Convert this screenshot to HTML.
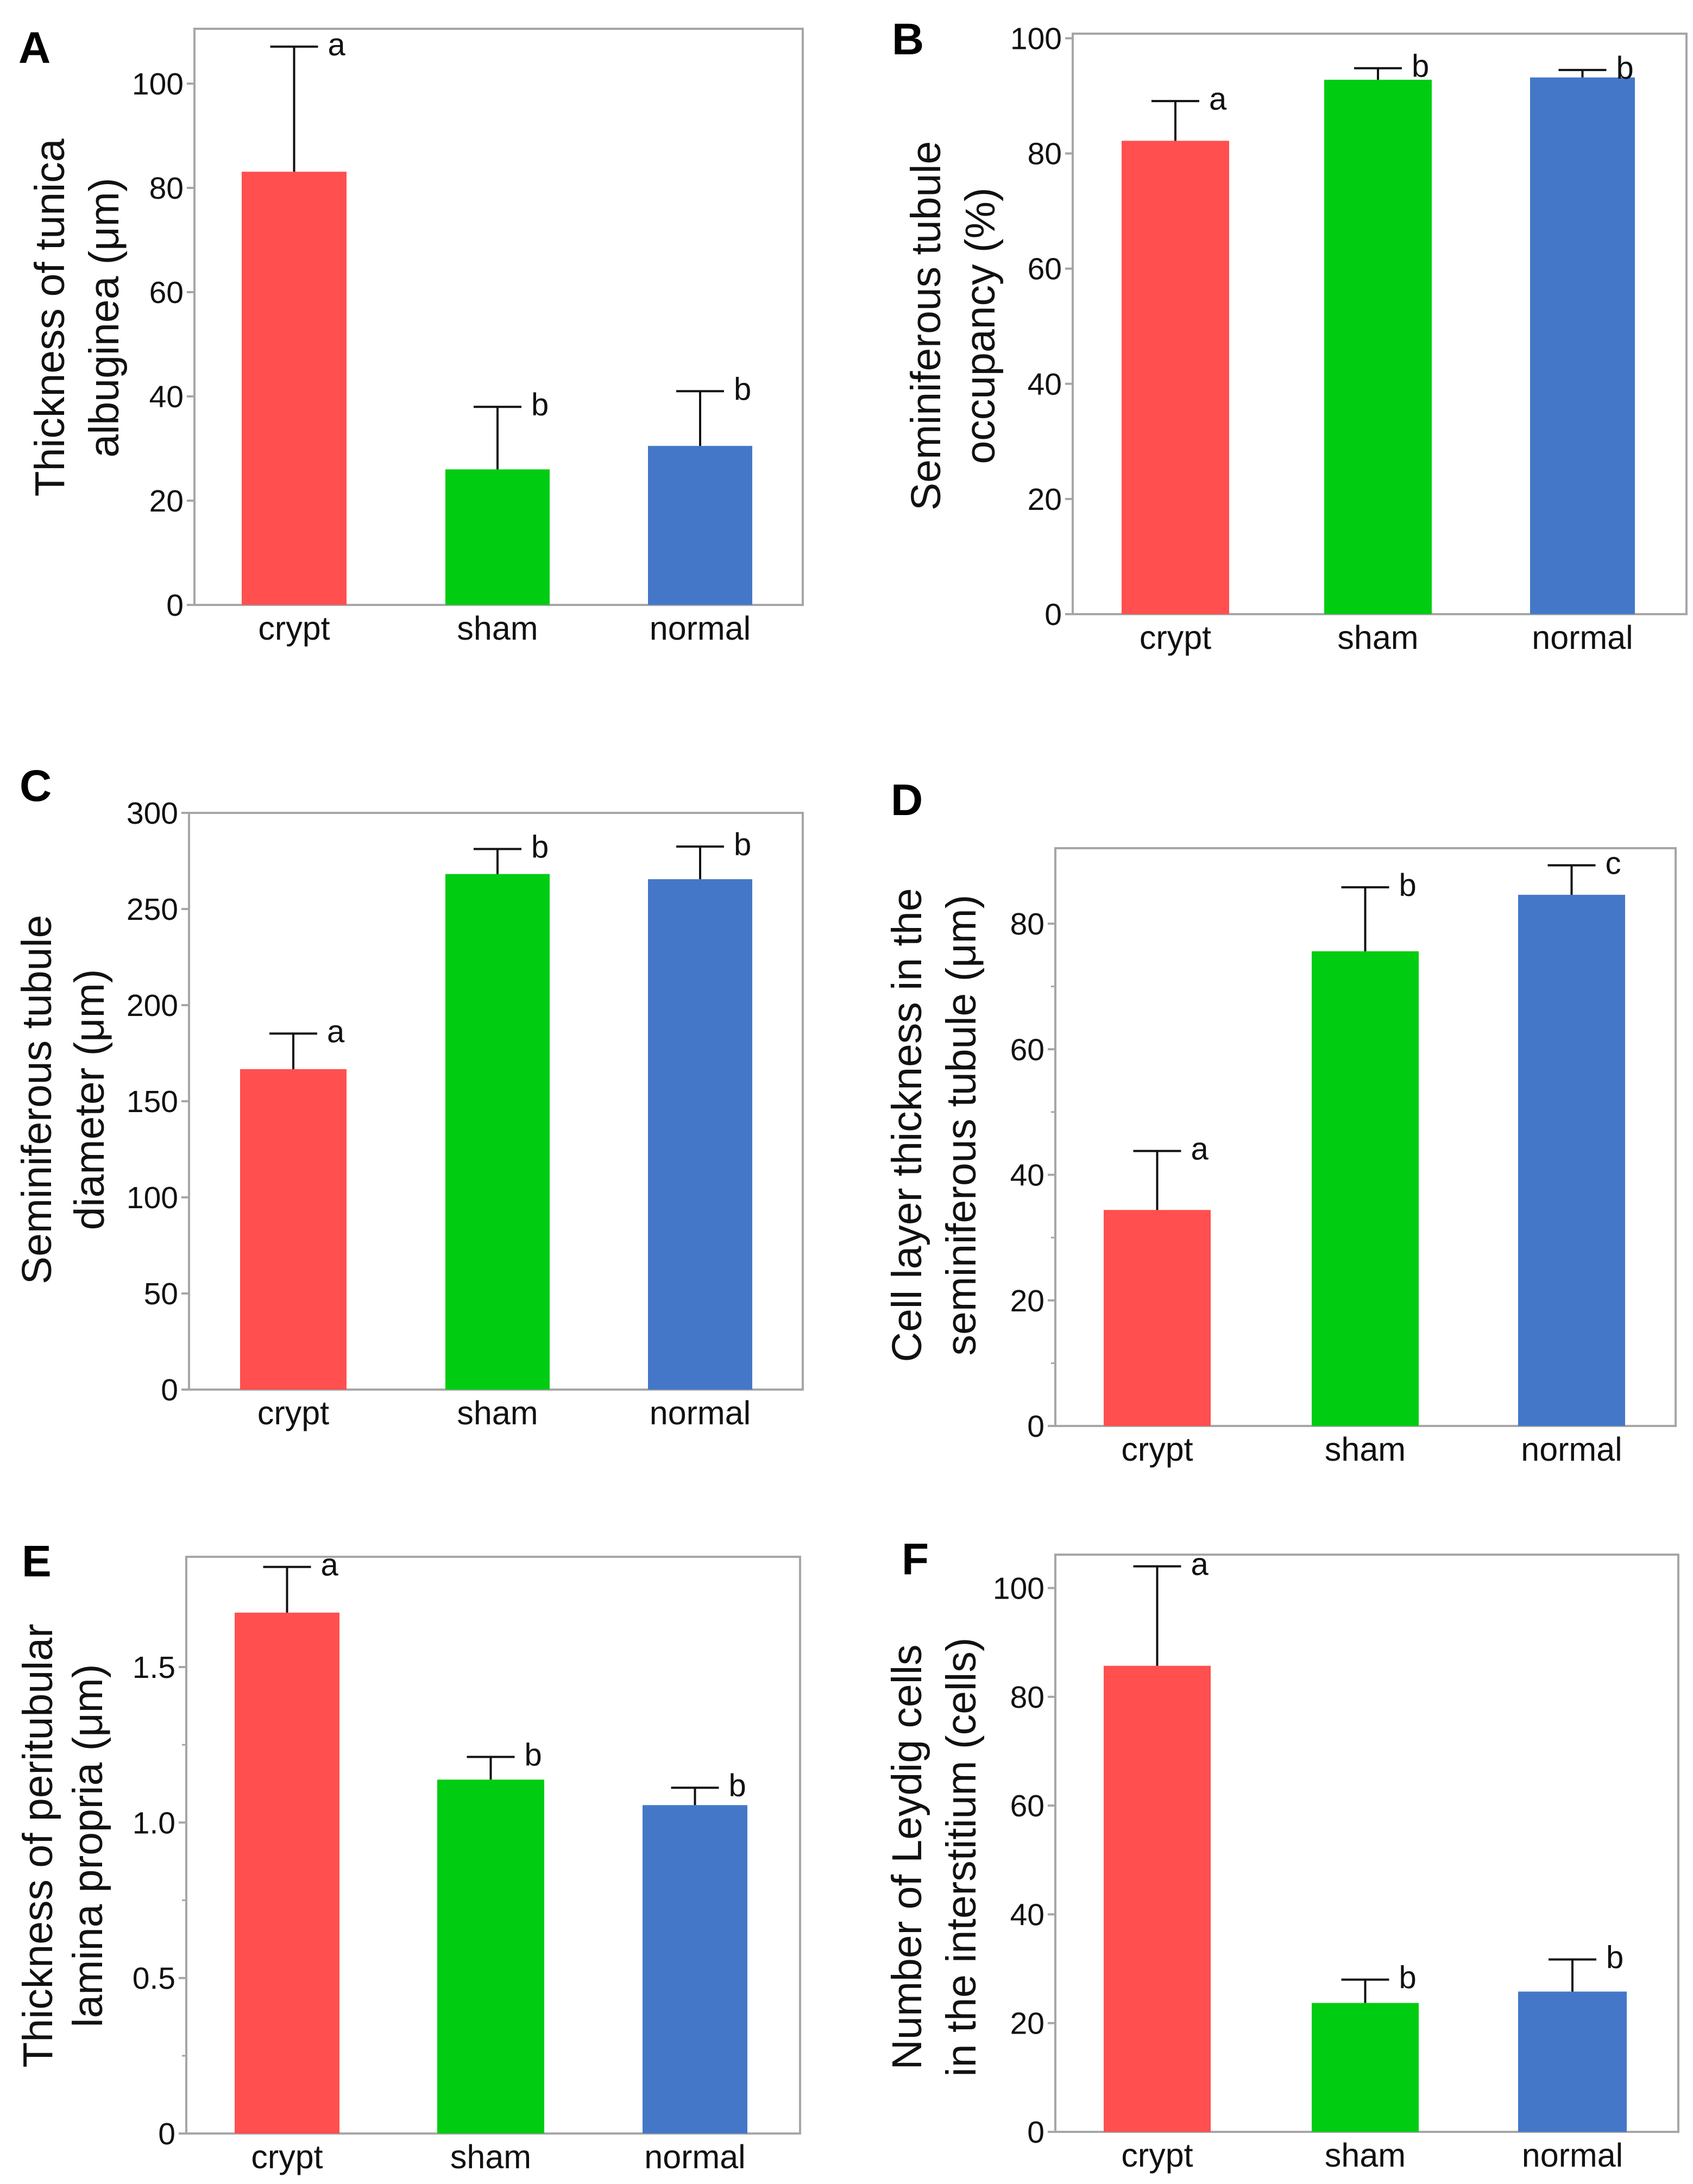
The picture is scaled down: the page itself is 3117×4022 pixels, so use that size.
<!DOCTYPE html>
<html><head><meta charset="utf-8">
<style>
html,body{margin:0;padding:0;background:#fff;}
svg{display:block;font-family:"Liberation Sans",Arial,sans-serif;}
</style></head>
<body>
<svg id="fig" width="3117" height="4022" viewBox="0 0 3117 4022" xmlns="http://www.w3.org/2000/svg"></svg>
<script>
const categories = ["crypt","sham","normal"];
const colors = ["#ff4f4f","#00cc11","#4477c8"];
const aMeans = [83.1, 26, 30.5];
const aErrs = [24, 12, 10.5];
const aSig = ["a","b","b"];
const aTicks = [0,20,40,60,80,100];
const bMeans = [82.2, 92.8, 93.2];
const bErrs = [6.9, 2.0, 1.3];
const bSig = ["a","b","b"];
const bTicks = [0,20,40,60,80,100];
const cMeans = [166.7, 268.2, 265.5];
const cErrs = [18.5, 13, 17];
const cSig = ["a","b","b"];
const cTicks = [0,50,100,150,200,250,300];
const dMeans = [34.4, 75.6, 84.6];
const dErrs = [9.4, 10.2, 4.7];
const dSig = ["a","b","c"];
const dTicks = [0,20,40,60,80];
const eMeans = [1.675, 1.138, 1.056];
const eErrs = [0.147, 0.073, 0.056];
const eSig = ["a","b","b"];
const eTicks = [0,0.5,1.0,1.5];
const eTickLabels = ["0","0.5","1.0","1.5"];
const fMeans = [85.7, 23.7, 25.8];
const fErrs = [18.3, 4.3, 5.9];
const fSig = ["a","b","b"];
const fTicks = [0,20,40,60,80,100];

const NS="http://www.w3.org/2000/svg";
const svg=document.getElementById('fig');
function mk(tag,attrs,parent){const e=document.createElementNS(NS,tag);for(const k in attrs)e.setAttribute(k,attrs[k]);(parent||svg).appendChild(e);return e;}

function panel(cfg){
  const g=mk('g',{});
  
  
  const y=v=>cfg.y0-(v-cfg.vmin)*(cfg.y0-cfg.yRef)/(cfg.vRef-cfg.vmin);
  const fr=mk('rect',{x:cfg.fx0,y:cfg.fy0,width:cfg.fx1-cfg.fx0,height:cfg.fy1-cfg.fy0,fill:'none',stroke:'#a6a6a6','stroke-width':4},g);
  
  
  cfg.ticks.forEach((t,i)=>{
    const ty=y(t);
    const tk=mk('line',{x1:cfg.fx0-14,x2:cfg.fx0,y1:ty,y2:ty,stroke:'#a6a6a6','stroke-width':4},g);
    
    
    const tl=mk('text',{x:cfg.fx0-20,y:ty+20,'font-size':57,'text-anchor':'end',fill:'#111'},g);
    
    
    tl.textContent=cfg.tickLabels?cfg.tickLabels[i]:String(t);
    if(cfg.minor && i<cfg.ticks.length-1){
      const my=y((t+cfg.ticks[i+1])/2);
      const mt=mk('line',{x1:cfg.fx0-8,x2:cfg.fx0,y1:my,y2:my,stroke:'#a6a6a6','stroke-width':3},g);
      
      
    }
  });
  categories.forEach((c,i)=>{
    const x0=cfg.bars[i][0],x1=cfg.bars[i][1],cx=(x0+x1)/2;
    const top=y(cfg.means[i]);
    const b=mk('rect',{x:x0,y:top,width:x1-x0,height:cfg.y0-top,fill:colors[i]},g);
    
    
    const et=y(cfg.means[i]+cfg.errs[i]);
    const el=mk('path',{d:`M${cx},${top} V${et} M${cx-44},${et} H${cx+44}`,stroke:'#111','stroke-width':4,fill:'none'},g);
    
    
    const s=mk('text',{x:cx+62,y:et+16,'font-size':58,fill:'#111'},g);
    
    
    s.textContent=cfg.sig[i];
    const cl=mk('text',{x:cx,y:cfg.fy1+64,'font-size':61,'text-anchor':'middle',fill:'#111'},g);
    
    
    cl.textContent=c;
  });
  cfg.title.forEach((line,i)=>{
    const tx=cfg.tx[i];
    const t=mk('text',{x:tx,y:cfg.ty,'font-size':77,'text-anchor':'middle',fill:'#111',transform:`rotate(-90 ${tx} ${cfg.ty})`,'dominant-baseline':'central'},g);
    
    
    t.textContent=line;
  });
  const L=mk('text',{x:cfg.lx,y:cfg.ly,'font-size':82,'font-weight':'bold',fill:'#000'},g);
  
  
  L.textContent=cfg.id;
}

const barsL=[[445,638],[820,1012],[1193,1385]];
const barsR=[[2032,2229],[2415,2612],[2795,2992]];
panel({id:'A',fx0:358,fx1:1478,fy0:53,fy1:1114,y0:1114,yRef:154,vmin:0,vRef:100,ticks:aTicks,means:aMeans,errs:aErrs,sig:aSig,bars:barsL,
  title:["Thickness of tunica","albuginea (μm)"],tx:[92,192],ty:585,lx:34,ly:116});
panel({id:'B',fx0:1975,fx1:3105,fy0:62,fy1:1131,y0:1131,yRef:70.5,vmin:0,vRef:100,ticks:bTicks,means:bMeans,errs:bErrs,sig:bSig,bars:[[2065,2263],[2438,2636],[2817,3010]],
  title:["Seminiferous tubule","occupancy (%)"],tx:[1705,1805],ty:600,lx:1642,ly:100});
panel({id:'C',fx0:348,fx1:1478,fy0:1497,fy1:2559,y0:2559,yRef:1497,vmin:0,vRef:300,ticks:cTicks,means:cMeans,errs:cErrs,sig:cSig,bars:[[442,638],[820,1012],[1193,1385]],
  title:["Seminiferous tubule","diameter (μm)"],tx:[68,165],ty:2025,lx:36,ly:1475});
panel({id:'D',minor:true,fx0:1943,fx1:3085,fy0:1562,fy1:2626,y0:2626,yRef:1701,vmin:0,vRef:80,ticks:dTicks,means:dMeans,errs:dErrs,sig:dSig,bars:barsR,
  title:["Cell layer thickness in the","seminiferous tubule (μm)"],tx:[1670,1770],ty:2072,lx:1640,ly:1501});
panel({id:'E',minor:true,fx0:343,fx1:1473,fy0:2867,fy1:3929,y0:3929,yRef:3070,vmin:0,vRef:1.5,ticks:eTicks,tickLabels:eTickLabels,means:eMeans,errs:eErrs,sig:eSig,bars:[[432,625],[805,1002],[1183,1376]],
  title:["Thickness of peritubular","lamina propria   (μm)"],tx:[70,162],ty:3399,lx:40,ly:2903});
panel({id:'F',fx0:1943,fx1:3090,fy0:2863,fy1:3926,y0:3926,yRef:2924.5,vmin:0,vRef:100,ticks:fTicks,means:fMeans,errs:fErrs,sig:fSig,bars:[[2032,2229],[2415,2612],[2795,2995]],
  title:["Number of Leydig cells","in the interstitium (cells)"],tx:[1670,1770],ty:3420,lx:1660,ly:2899});
</script>
</body></html>
